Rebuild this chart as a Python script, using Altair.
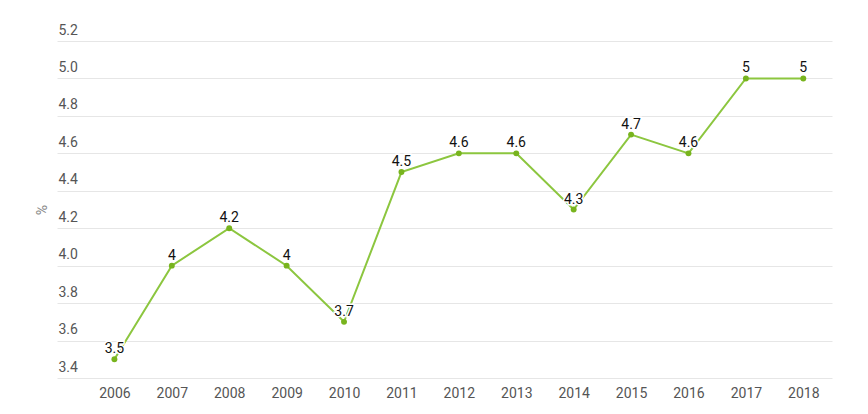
import altair as alt
import pandas as pd

years = [2006, 2007, 2008, 2009, 2010, 2011, 2012, 2013, 2014, 2015, 2016, 2017, 2018]
values = [3.5, 4.0, 4.2, 4.0, 3.7, 4.5, 4.6, 4.6, 4.3, 4.7, 4.6, 5.0, 5.0]
labels = ["3.5", "4", "4.2", "4", "3.7", "4.5", "4.6", "4.6", "4.3", "4.7", "4.6", "5", "5"]
y_ticks = [3.4, 3.6, 3.8, 4.0, 4.2, 4.4, 4.6, 4.8, 5.0, 5.2]

df = pd.DataFrame({"year": years, "value": values, "label": labels})

W, H = 775, 337

x = alt.X(
    "year:Q",
    scale=alt.Scale(domain=[2005.0, 2018.5], nice=False, zero=False),
    axis=alt.Axis(
        values=years, format="d", grid=False, domain=False, ticks=False,
        labelFont="Roboto", labelFontSize=14, labelColor="#555555",
        labelPadding=8, title=None, labelFlush=False,
    ),
)
y = alt.Y(
    "value:Q",
    scale=alt.Scale(domain=[3.4, 5.2], nice=False, zero=False),
    axis=alt.Axis(
        values=y_ticks, format=".1f", grid=True, gridColor="#e6e6e6", gridWidth=1,
        domain=False, ticks=False, labelAlign="left", labelBaseline="bottom",
        labelPadding=-1, labelOffset=-4, labelFont="Roboto", labelFontSize=14,
        labelColor="#555555", title="%", titleFont="Roboto", titleFontSize=14,
        titleFontWeight="normal", titleColor="#888888", titleX=-15, titleY=H / 2,
        titleAngle=-90, titleAlign="center", titleBaseline="middle",
    ),
)

base = alt.Chart(df)
line = base.mark_line(color="#8cc63f", strokeWidth=2).encode(x=x, y=y)
points = base.mark_point(filled=True, color="#78b41e", size=35, opacity=1).encode(x=x, y=y)
text_halo = base.mark_text(
    font="Roboto", fontSize=14, fontWeight="normal", color="white", stroke="white",
    strokeWidth=3, baseline="bottom", dy=-3
).encode(x=x, y=y, text="label:N")
text = base.mark_text(
    font="Roboto", fontSize=14, fontWeight="normal", color="#111111", baseline="bottom", dy=-3
).encode(x=x, y=y, text="label:N")

chart = (
    alt.layer(line, points, text_halo, text)
    .properties(
        width=W, height=H,
        autosize=alt.AutoSizeParams(type="none"),
        padding={"left": 49, "top": 33, "right": 28, "bottom": 28},
        background="white",
    )
    .configure_view(stroke=None)
)

chart.save("out.html", embed_options={"renderer": "svg", "actions": False})
